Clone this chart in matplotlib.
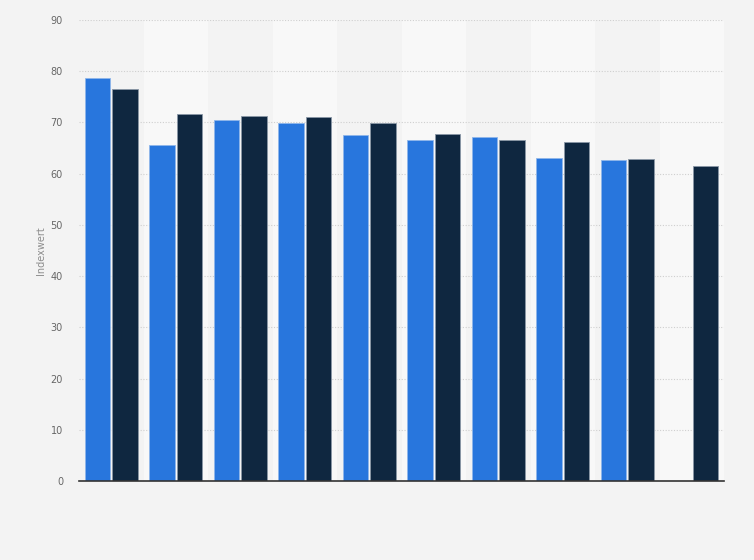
import numpy as np
import matplotlib.pyplot as plt

# Werte (Indexwert)
groups = list(range(10))
series_a = [78.6, 65.6, 70.5, 69.9, 67.5, 66.6, 67.1, 63.0, 62.6, np.nan]
series_b = [76.5, 71.7, 71.3, 71.0, 69.9, 67.7, 66.5, 66.1, 62.8, 61.5]
yticks = [0, 10, 20, 30, 40, 50, 60, 70, 80, 90]

plt.rcParams['font.family'] = ['DejaVu Sans']

fig = plt.figure(figsize=(7.54, 5.6), dpi=100, facecolor='#f3f3f3')
ax = fig.add_axes([79 / 754, 79 / 560, 645 / 754, 461 / 560])
ax.set_facecolor('#f3f3f3')

x = np.arange(len(groups))
# abwechselnde Hintergrundstreifen
for i in x:
    if i % 2 == 1:
        ax.axvspan(i - 0.5, i + 0.5, color='#f8f8f8', zorder=0, lw=0)

w = 0.395
ax.bar(x - w / 2 - 0.015, series_a, width=w, color='#2876dd',
       edgecolor='#8fb6ea', linewidth=0.6, zorder=3)
ax.bar(x + w / 2 + 0.015, series_b, width=w, color='#0f2740',
       edgecolor='#8a97a6', linewidth=0.6, zorder=3)

ax.set_xlim(-0.5, len(groups) - 0.5)
ax.set_ylim(0, 90)
ax.set_yticks(yticks)
ax.set_xticks([])
ax.yaxis.grid(True, linestyle=(0, (1, 1.5)), color='#cfcfcf', linewidth=0.8, zorder=1)
for s in ['top', 'right', 'left']:
    ax.spines[s].set_visible(False)
ax.spines['bottom'].set_color('#333333')
ax.spines['bottom'].set_linewidth(1.2)
ax.spines['bottom'].set_zorder(4)
ax.tick_params(axis='y', length=0, labelsize=7, labelcolor='#666666', pad=11.5)
ax.set_ylabel('Indexwert', fontsize=7, color='#8c8c8c')
ax.yaxis.set_label_coords(-0.0515, 0.5)

fig.savefig('out.png', dpi=100, facecolor=fig.get_facecolor())
